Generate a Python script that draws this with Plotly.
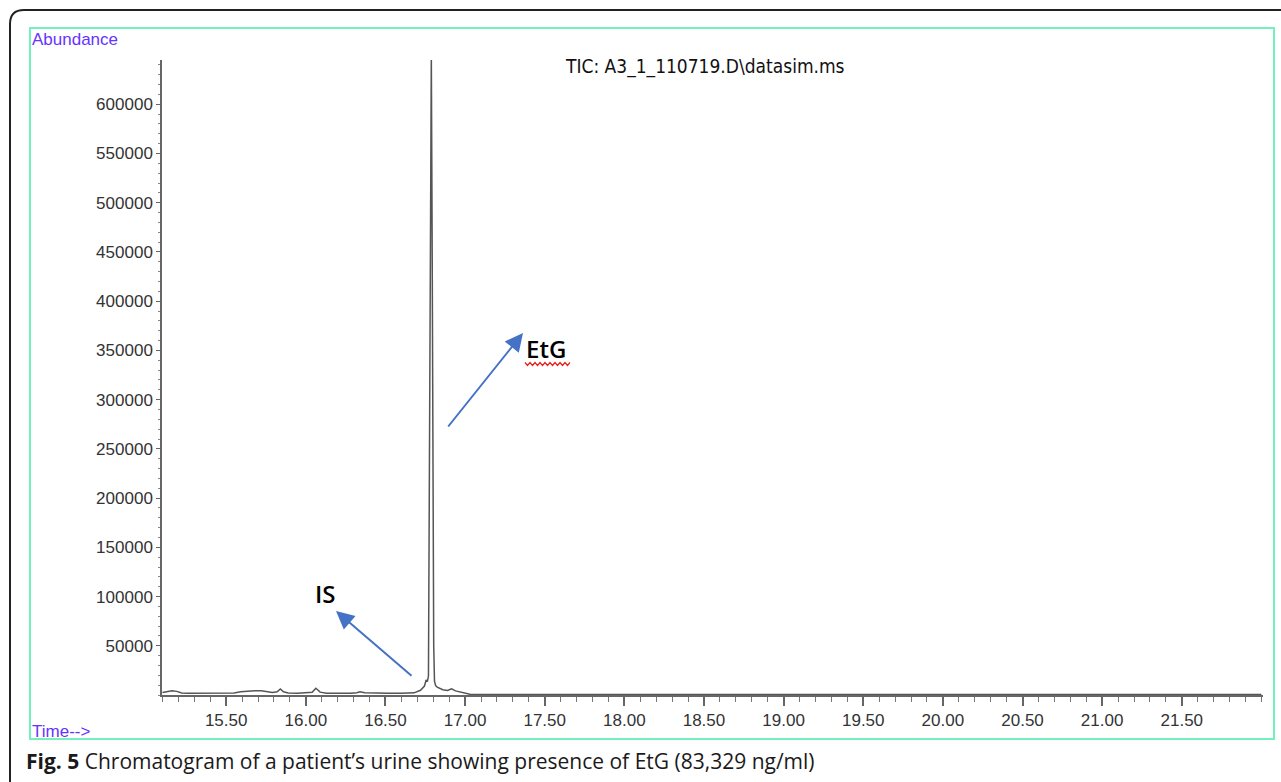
import plotly.graph_objects as go

# ---- data (retention time in min, abundance) ----
time_min = [15.10, 15.13, 15.16, 15.19, 15.22, 15.26, 15.32, 15.40, 15.48, 15.55,
            15.59, 15.63, 15.68, 15.72, 15.76, 15.79, 15.82, 15.84, 15.86, 15.89,
            15.95, 16.00, 16.04, 16.063, 16.09, 16.13, 16.20, 16.28, 16.32, 16.34,
            16.37, 16.44, 16.52, 16.60, 16.68, 16.72, 16.745, 16.755, 16.763, 16.770,
            16.774, 16.779, 16.784, 16.788, 16.793, 16.798, 16.803, 16.808, 16.815,
            16.825, 16.84, 16.86, 16.89, 16.915, 16.94, 16.97, 17.00, 17.03, 17.10,
            17.50, 18.00, 18.50, 19.00, 19.50, 20.00, 20.50, 21.00, 21.50, 22.00]
abundance = [2500, 3600, 4400, 3700, 2000, 1700, 1600, 1600, 1800, 2000,
             3200, 4000, 4400, 4300, 3700, 2600, 3200, 6200, 3200, 2100,
             1900, 2000, 2700, 6900, 2900, 1900, 1800, 1900, 2400, 3200,
             2200, 1800, 1800, 1900, 2200, 4800, 9000, 15200, 13500, 19000,
             190000, 440000, 630000, 650000, 470000, 220000, 50000, 14000, 9500,
             8000, 6800, 5300, 4600, 6300, 4200, 2900, 1800, 800, 500,
             400, 400, 400, 400, 400, 400, 400, 400, 400, 400]

x_ticks = [15.5, 16.0, 16.5, 17.0, 17.5, 18.0, 18.5, 19.0, 19.5, 20.0, 20.5, 21.0, 21.5]
y_ticks = [50000, 100000, 150000, 200000, 250000, 300000, 350000, 400000,
           450000, 500000, 550000, 600000]

title_text = "TIC: A3_1_110719.D\\datasim.ms"
caption_bold = "Fig. 5"
caption_text = "Chromatogram of a patient’s urine showing presence of EtG (83,329 ng/ml)"

# ---- layout geometry (pixels) ----
W, H = 1281, 782
L, R, T, B = 162, 18, 60, 87
PW, PH = W - L - R, H - T - B


def px(x):
    return (x - L) / PW


def py(y):
    return (H - B - y) / PH


fig = go.Figure()
fig.add_trace(go.Scatter(x=time_min, y=abundance, mode="lines",
                         line=dict(color="#555555", width=1.5),
                         hoverinfo="x+y", showlegend=False))

tickfont = dict(family="Liberation Sans, Arial, sans-serif", size=17, color="#333333")

fig.update_layout(
    width=W, height=H,
    margin=dict(l=L, r=R, t=T, b=B),
    paper_bgcolor="white", plot_bgcolor="white",
    showlegend=False,
    xaxis=dict(range=[15.097, 22.01], showgrid=False, zeroline=False,
               showline=True, linecolor="#666666", linewidth=1.5,
               ticks="outside", ticklen=9, tickwidth=1.5, tickcolor="#666666",
               tickvals=x_ticks, ticktext=[f"{v:.2f}" for v in x_ticks],
               tickfont=tickfont,
               minor=dict(dtick=0.1, tick0=15.0, ticks="outside", ticklen=5,
                          tickwidth=1.2, tickcolor="#777777", showgrid=False)),
    yaxis=dict(range=[0, 645000], showgrid=False, zeroline=False,
               showline=True, linecolor="#666666", linewidth=1.5,
               ticks="outside", ticklen=4, tickwidth=1.2, tickcolor="#666666",
               tickvals=y_ticks, ticktext=[str(v) for v in y_ticks],
               tickfont=tickfont,
               minor=dict(dtick=10000, tick0=0, ticks="outside", ticklen=2,
                          tickwidth=1, tickcolor="#888888", showgrid=False)),
)

# outer black rounded frame (open at right/bottom, beyond the canvas)
r = 14
frame_path = (f"M {px(10)},{py(800)} L {px(10)},{py(10 + r)} "
              f"Q {px(10)},{py(10)} {px(10 + r)},{py(10)} L {px(1300)},{py(10)}")
shapes = [
    dict(type="path", xref="paper", yref="paper", path=frame_path,
         line=dict(color="#222222", width=2)),
    dict(type="rect", xref="paper", yref="paper",
         x0=px(30), x1=px(1274), y0=py(739), y1=py(28),
         line=dict(color="#74f0bd", width=2), fillcolor="rgba(0,0,0,0)", layer="below"),
]
# red wavy spell-check underline under "EtG"
pts = []
xw = 525
i = 0
while xw <= 571:
    pts.append((xw, 364 + (1.5 if i % 2 else -1.5)))
    xw += 2.5
    i += 1
wave = "M " + " L ".join(f"{px(a)},{py(b)}" for a, b in pts)
shapes.append(dict(type="path", xref="paper", yref="paper", path=wave,
                   line=dict(color="#e8231f", width=1.2)))
fig.update_layout(shapes=shapes)

annos = [
    dict(text="Abundance", x=px(30), y=py(39), xanchor="left", yanchor="middle",
         font=dict(family="Liberation Sans, Arial, sans-serif", size=17, color="#6633ff")),
    dict(text="Time-->", x=px(30), y=py(731), xanchor="left", yanchor="middle",
         font=dict(family="Liberation Sans, Arial, sans-serif", size=17, color="#6633ff")),
    dict(text=title_text, x=px(563), y=py(67), xanchor="left", yanchor="middle",
         font=dict(family="Liberation Sans Narrow, DejaVu Sans Condensed, sans-serif", size=19, color="#111111")),
    dict(text="EtG", x=px(524), y=py(348), xanchor="left", yanchor="middle",
         font=dict(family="Open Sans, sans-serif", size=24, color="#000000", weight=600)),
    dict(text="IS", x=px(313), y=py(593), xanchor="left", yanchor="middle",
         font=dict(family="Open Sans, sans-serif", size=24, color="#000000", weight=600)),
    dict(text=f"<b>{caption_bold}</b> {caption_text}", x=px(24), y=py(761),
         xanchor="left", yanchor="middle",
         font=dict(family="Open Sans, sans-serif", size=21, color="#1a1a1a")),
    # arrows
    dict(text="", x=px(523), y=py(333), showarrow=True, ax=447 - 523, ay=428 - 333,
         arrowhead=2, arrowsize=1.8, arrowwidth=2, arrowcolor="#4472c4"),
    dict(text="", x=px(336), y=py(611), showarrow=True, ax=413 - 336, ay=677 - 611,
         arrowhead=2, arrowsize=1.8, arrowwidth=2, arrowcolor="#4472c4"),
]
for a in annos:
    a.setdefault("xref", "paper")
    a.setdefault("yref", "paper")
    a.setdefault("showarrow", False)
fig.update_layout(annotations=annos)

fig.write_html("out.html")
